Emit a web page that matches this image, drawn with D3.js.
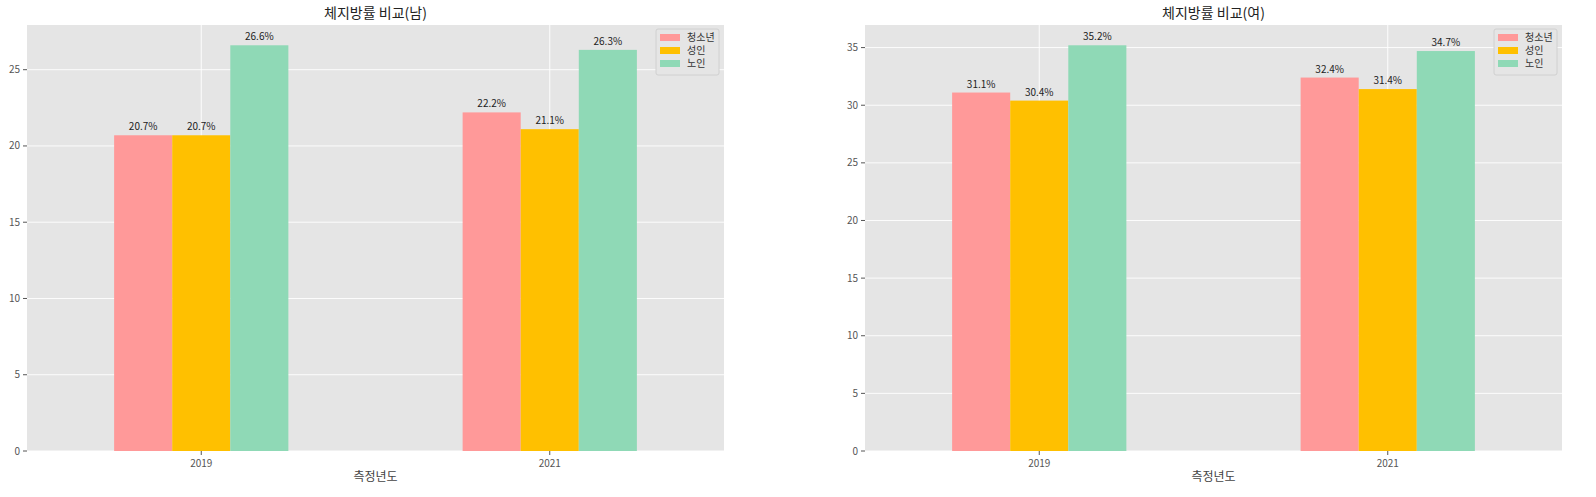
<!DOCTYPE html>
<html><head><meta charset="utf-8">
<script src="https://cdn.jsdelivr.net/npm/d3@7"></script>
<style>html,body{margin:0;padding:0;overflow:hidden;background:#fff;font-family:"Noto Sans CJK KR","Noto Sans",sans-serif;}svg{display:block;}</style>
</head><body><svg id="c" width="1596" height="497"></svg>
<script>
const years = ["2019","2021"];
const seriesNames = ["청소년","성인","노인"];
const colors = ["#ff9999","#ffc000","#8fd9b6"];
const male = [[20.7,22.2],[20.7,21.1],[26.6,26.3]];
const female = [[31.1,32.4],[30.4,31.4],[35.2,34.7]];
const titles = ["체지방률 비교(남)","체지방률 비교(여)"];
const svg = d3.select("#c");
function panel(x0, data, title){
  const W=697,H=426,y0=25;
  const g=svg.append("g").attr("transform",`translate(${x0},${y0})`);
  g.append("rect").attr("width",W).attr("height",H).attr("fill","#e5e5e5");
  const x=d3.scaleLinear().domain([-0.5,1.5]).range([0,W]);
  const mx=d3.max(data.flat())*1.05;
  const y=d3.scaleLinear().domain([0,mx]).range([H,0]);
  const yt=y.ticks(8).filter(t=>t%5===0);
  g.selectAll(".hg").data(yt).join("line").attr("x1",0).attr("x2",W).attr("y1",d=>y(d)).attr("y2",d=>y(d)).attr("stroke","#fff").attr("stroke-width",0.9);
  g.selectAll(".vg").data([0,1]).join("line").attr("x1",d=>x(d)).attr("x2",d=>x(d)).attr("y1",0).attr("y2",H).attr("stroke","#fff").attr("stroke-width",0.9);
  const bw=1/6;
  data.forEach((s,i)=>{
    s.forEach((v,j)=>{
      const cx=j-0.25+bw*i;
      g.append("rect").attr("x",x(cx)).attr("width",x(cx+bw)-x(cx)).attr("y",y(v)).attr("height",H-y(v)).attr("fill",colors[i]);
      g.append("text").attr("x",x(cx+bw/2)).attr("y",y(v)-5).attr("text-anchor","middle").attr("font-size",10).attr("fill","#222").text(v.toFixed(1)+"%");
    });
  });
  yt.forEach(t=>{
    g.append("line").attr("x1",-4).attr("x2",0).attr("y1",y(t)).attr("y2",y(t)).attr("stroke","#555");
    g.append("text").attr("x",-7).attr("y",y(t)+3.5).attr("text-anchor","end").attr("font-size",10).attr("fill","#555").text(t);
  });
  years.forEach((yr,j)=>{
    g.append("line").attr("x1",x(j)).attr("x2",x(j)).attr("y1",H).attr("y2",H+4).attr("stroke","#555");
    g.append("text").attr("x",x(j)).attr("y",H+16).attr("text-anchor","middle").attr("font-size",10).attr("fill","#555").text(yr);
  });
  g.append("text").attr("x",W/2).attr("y",H+30).attr("text-anchor","middle").attr("font-size",12).attr("fill","#444").text("측정년도");
  g.append("text").attr("x",W/2).attr("y",-7).attr("text-anchor","middle").attr("font-size",14).attr("fill","#222").text(title);
  const lg=g.append("g").attr("transform",`translate(${W-68},4)`);
  lg.append("rect").attr("width",63).attr("height",46).attr("fill","#e5e5e5").attr("stroke","#d0d0d0").attr("rx",2);
  seriesNames.forEach((n,i)=>{
    lg.append("rect").attr("x",4).attr("y",5+i*13).attr("width",20).attr("height",7).attr("fill",colors[i]);
    lg.append("text").attr("x",31).attr("y",12+i*13).attr("font-size",10).attr("fill","#333").text(n);
  });
}
panel(27,male,titles[0]);
panel(865,female,titles[1]);
</script></body></html>
